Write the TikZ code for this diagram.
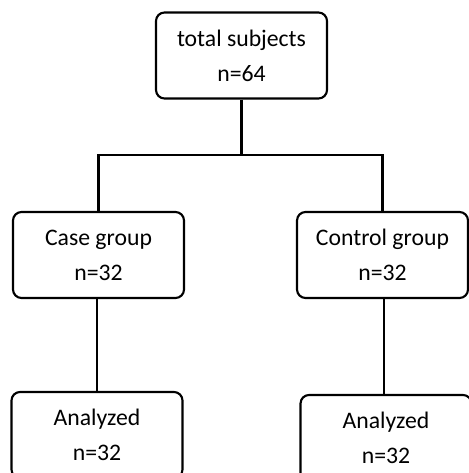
\documentclass[tikz,border=0pt]{standalone}
\usepackage{fontspec}
\setmainfont{Carlito}
\begin{document}
\begin{tikzpicture}[x=0.02cm, y=-0.02cm,
    box/.style={draw, line width=1.2pt, rounded corners=0.17cm, align=center,
        minimum width=3.42cm, minimum height=1.72cm, inner sep=0pt,
        font=\fontsize{13.5}{20}\selectfont},
    link/.style={line width=1.2pt},
    thinlink/.style={line width=0.85pt}]
    \useasboundingbox (0,0) rectangle (469,473);
    \clip (0,0) rectangle (469,473);

    % Livello superiore
    \node[box] (total) at (241.5,55.5) {total subjects\\n=64};

    % Gruppi
    \node[box] (case) at (98.5,255) {Case group\\n=32};
    \node[box] (control) at (382.5,255) {Control group\\n=32};

    % Analizzati
    \node[box] (caseout) at (97,435) {Analyzed\\n=32};
    \node[box] (controlout) at (386,438) {Analyzed\\n=32};

    % Diramazione
    \coordinate (split) at (241.5,155);
    \draw[link] (total) -- (split);
    \draw[link] (case.north) |- (split) -| (control.north);

    % Collegamenti inferiori
    \draw[thinlink] (caseout.north |- case.south) -- (caseout.north);
    \draw[thinlink] ([xshift=0.03cm]control.south) -- ([xshift=0.03cm]control.south |- controlout.north);
\end{tikzpicture}
\end{document}
